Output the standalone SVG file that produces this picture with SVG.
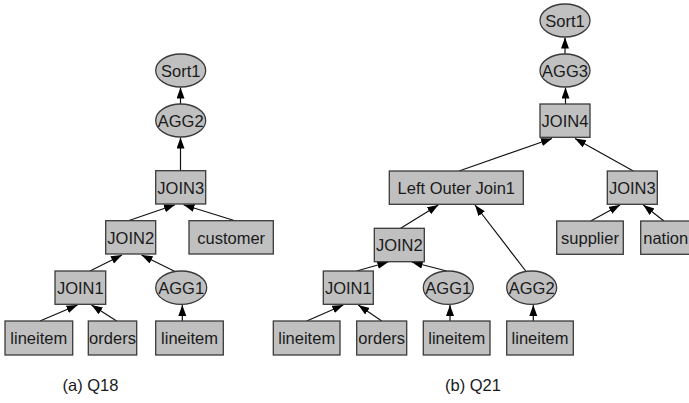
<svg xmlns="http://www.w3.org/2000/svg" width="689" height="403" viewBox="0 0 689 403">
<style>
.n rect, .n ellipse { fill: #c0c0c0; stroke: #3a3a3a; stroke-width: 1.3; }
.n text, .cap { font-family: "Liberation Sans", Arial, sans-serif; font-size: 16.5px; fill: #1a1a1a; text-anchor: middle; }
.e line { stroke: #111; stroke-width: 1.2; marker-end: url(#ah); }
</style>
<defs>
<marker id="ah" markerUnits="userSpaceOnUse" markerWidth="12" markerHeight="10" refX="11" refY="4" orient="auto">
<path d="M0,0 L11,4 L0,8 Z" fill="#000"/>
</marker>
</defs>
<rect width="689" height="403" fill="#fff"/>
<g id="edges" class="e">
<!-- left tree -->
<line x1="180.5" y1="104" x2="180.5" y2="87.5"/>
<line x1="180.5" y1="171" x2="180.5" y2="137.5"/>
<line x1="128.3" y1="220.7" x2="175" y2="204.8"/>
<line x1="235" y1="220.7" x2="183.5" y2="204.8"/>
<line x1="90" y1="271" x2="122" y2="255"/>
<line x1="175" y1="271.5" x2="141.5" y2="255"/>
<line x1="40" y1="321" x2="77.5" y2="305"/>
<line x1="116.7" y1="321" x2="91.5" y2="305"/>
<line x1="182.3" y1="321" x2="182.3" y2="305"/>
<!-- right tree -->
<line x1="565" y1="54" x2="565" y2="37.5"/>
<line x1="565.5" y1="104" x2="565.5" y2="87.5"/>
<line x1="459" y1="171" x2="552" y2="138.5"/>
<line x1="633.3" y1="171" x2="575" y2="138.5"/>
<line x1="400.7" y1="228.3" x2="438.3" y2="205"/>
<line x1="525.7" y1="271" x2="475" y2="205"/>
<line x1="590.7" y1="221" x2="620" y2="205"/>
<line x1="664" y1="221" x2="643.3" y2="205"/>
<line x1="356.7" y1="271" x2="388.3" y2="262"/>
<line x1="446.7" y1="271" x2="411.7" y2="262"/>
<line x1="306.7" y1="321" x2="343.3" y2="305"/>
<line x1="381.7" y1="321" x2="358.3" y2="305"/>
<line x1="450" y1="321" x2="450" y2="305"/>
<line x1="533.3" y1="321" x2="533.3" y2="305"/>
</g>
<!-- left tree nodes -->
<g id="a_sort1" class="n"><ellipse cx="180.7" cy="70.5" rx="25" ry="16.5"/><text x="180.7" y="76.5">Sort1</text></g>
<g id="a_agg2" class="n"><ellipse cx="180.7" cy="120.5" rx="25" ry="16.5"/><text x="180.7" y="126.5">AGG2</text></g>
<g id="a_join3" class="n"><rect x="155.7" y="170.7" width="50" height="33.3"/><text x="180.7" y="193.5">JOIN3</text></g>
<g id="a_join2" class="n"><rect x="105.7" y="220.7" width="50" height="33.3"/><text x="130.7" y="243.5">JOIN2</text></g>
<g id="a_customer" class="n"><rect x="189" y="220.7" width="84.3" height="33.3"/><text x="231.2" y="243.5">customer</text></g>
<g id="a_join1" class="n"><rect x="55" y="271" width="50.7" height="33.3"/><text x="80.3" y="293.8">JOIN1</text></g>
<g id="a_agg1" class="n"><ellipse cx="181.2" cy="287.7" rx="25.5" ry="16.7"/><text x="181.2" y="293.8">AGG1</text></g>
<g id="a_lineitem1" class="n"><rect x="5" y="321" width="67.7" height="34"/><text x="38.8" y="344">lineitem</text></g>
<g id="a_orders" class="n"><rect x="88.3" y="321" width="48.4" height="34"/><text x="112.5" y="344">orders</text></g>
<g id="a_lineitem2" class="n"><rect x="155.7" y="321" width="67.6" height="34"/><text x="189.5" y="344">lineitem</text></g>
<text class="cap" x="90.5" y="390.5">(a) Q18</text>
<!-- right tree nodes -->
<g id="b_sort1" class="n"><ellipse cx="565" cy="20.5" rx="25" ry="16.5"/><text x="565" y="26.5">Sort1</text></g>
<g id="b_agg3" class="n"><ellipse cx="565" cy="70.5" rx="25" ry="16.5"/><text x="565" y="76.5">AGG3</text></g>
<g id="b_join4" class="n"><rect x="540" y="104" width="50" height="33.3"/><text x="565" y="126.8">JOIN4</text></g>
<g id="b_loj1" class="n"><rect x="389.3" y="171" width="134" height="33.3"/><text x="456.3" y="193.8">Left Outer Join1</text></g>
<g id="b_join3" class="n"><rect x="607.3" y="171" width="50" height="33.3"/><text x="632.3" y="193.8">JOIN3</text></g>
<g id="b_supplier" class="n"><rect x="556.7" y="221" width="66.6" height="33.3"/><text x="590" y="243.8">supplier</text></g>
<g id="b_nation" class="n"><rect x="640.7" y="221" width="50" height="33.3"/><text x="665.7" y="243.8">nation</text></g>
<g id="b_join2" class="n"><rect x="374.3" y="228.3" width="50" height="33.4"/><text x="399.3" y="251.2">JOIN2</text></g>
<g id="b_join1" class="n"><rect x="323.3" y="271" width="50" height="33.3"/><text x="348.3" y="293.8">JOIN1</text></g>
<g id="b_agg1" class="n"><ellipse cx="448.3" cy="287.7" rx="25" ry="16.7"/><text x="448.3" y="293.8">AGG1</text></g>
<g id="b_agg2" class="n"><ellipse cx="531.7" cy="287.7" rx="25" ry="16.7"/><text x="531.7" y="293.8">AGG2</text></g>
<g id="b_lineitem1" class="n"><rect x="273.3" y="321" width="66.7" height="34"/><text x="306.7" y="344">lineitem</text></g>
<g id="b_orders" class="n"><rect x="356.7" y="321" width="50" height="34"/><text x="381.7" y="344">orders</text></g>
<g id="b_lineitem2" class="n"><rect x="423.3" y="321" width="66.7" height="34"/><text x="456.7" y="344">lineitem</text></g>
<g id="b_lineitem3" class="n"><rect x="506.7" y="321" width="66.6" height="34"/><text x="540" y="344">lineitem</text></g>
<text class="cap" x="473" y="390.5">(b) Q21</text>
</svg>
